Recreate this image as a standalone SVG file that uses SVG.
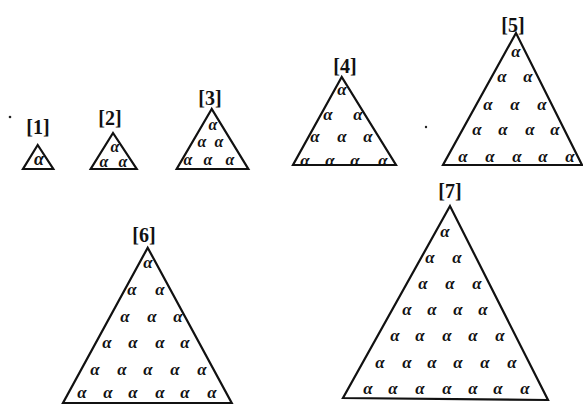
<svg xmlns="http://www.w3.org/2000/svg" width="583" height="405" viewBox="0 0 583 405">
<style>
.tri{fill:none;stroke:#111;stroke-width:2.2;stroke-linejoin:miter}
.lab{font-family:"Liberation Serif",serif;font-weight:bold;font-size:20px;text-anchor:middle;fill:#111}
.a{font-family:"Liberation Serif",serif;font-style:italic;font-weight:bold;font-size:17px;text-anchor:middle;fill:#111}
.b{font-size:18px}
.c{font-size:16px}
</style>
<rect width="583" height="405" fill="#fff"/>
<circle cx="10" cy="117" r="1.3" fill="#222"/>
<circle cx="426" cy="127" r="1.2" fill="#222"/>
<g id="n1">
<text class="lab" x="38" y="134">[1]</text>
<polygon class="tri" points="37.7,145 23,169 53.3,169"/>
<text class="a b" x="39" y="165">α</text>
</g>
<g id="n2">
<text class="lab" x="110" y="125">[2]</text>
<polygon class="tri" points="113,133 90.7,169 136.7,169"/>
<text class="a c" x="115" y="152">α</text>
<text class="a c" x="104" y="167">α</text>
<text class="a c" x="123" y="167">α</text>
</g>
<g id="n3">
<text class="lab" x="210" y="105">[3]</text>
<polygon class="tri" points="211.7,109 176.7,169 248.3,169"/>
<text class="a c" x="213" y="130">α</text>
<text class="a c" x="202" y="147">α</text>
<text class="a c" x="219" y="147">α</text>
<text class="a c" x="188" y="165">α</text>
<text class="a c" x="208" y="165">α</text>
<text class="a c" x="230" y="165">α</text>
</g>
<g id="n4">
<text class="lab" x="345" y="73">[4]</text>
<polygon class="tri" points="341.7,77 293,165 396,165"/>
<text class="a" x="342" y="95">α</text>
<text class="a" x="328" y="120">α</text>
<text class="a" x="358" y="120">α</text>
<text class="a" x="315" y="142">α</text>
<text class="a" x="342" y="142">α</text>
<text class="a" x="368" y="142">α</text>
<text class="a" x="305" y="166">α</text>
<text class="a" x="330" y="166">α</text>
<text class="a" x="355" y="166">α</text>
<text class="a" x="383" y="166">α</text>
</g>
<g id="n5">
<text class="lab" x="513" y="32">[5]</text>
<polygon class="tri" points="516,33 443,165 582,165"/>
<text class="a" x="516" y="57">α</text>
<text class="a" x="502" y="82">α</text>
<text class="a" x="528" y="82">α</text>
<text class="a" x="488" y="110">α</text>
<text class="a" x="515" y="110">α</text>
<text class="a" x="542" y="110">α</text>
<text class="a" x="477" y="135">α</text>
<text class="a" x="503" y="135">α</text>
<text class="a" x="530" y="135">α</text>
<text class="a" x="555" y="135">α</text>
<text class="a" x="463" y="162">α</text>
<text class="a" x="490" y="162">α</text>
<text class="a" x="517" y="162">α</text>
<text class="a" x="543" y="162">α</text>
<text class="a" x="570" y="162">α</text>
</g>
<g id="n6">
<text class="lab" x="144" y="242">[6]</text>
<polygon class="tri" points="147.7,247.7 63,403 231.7,403"/>
<text class="a" x="148" y="268">α</text>
<text class="a" x="132" y="295">α</text>
<text class="a" x="160" y="295">α</text>
<text class="a" x="125" y="322">α</text>
<text class="a" x="152" y="322">α</text>
<text class="a" x="178" y="322">α</text>
<text class="a" x="107" y="348">α</text>
<text class="a" x="133" y="348">α</text>
<text class="a" x="160" y="348">α</text>
<text class="a" x="185" y="348">α</text>
<text class="a" x="95" y="375">α</text>
<text class="a" x="122" y="375">α</text>
<text class="a" x="148" y="375">α</text>
<text class="a" x="175" y="375">α</text>
<text class="a" x="202" y="375">α</text>
<text class="a" x="82" y="398">α</text>
<text class="a" x="108" y="398">α</text>
<text class="a" x="133" y="398">α</text>
<text class="a" x="160" y="398">α</text>
<text class="a" x="185" y="398">α</text>
<text class="a" x="212" y="398">α</text>
</g>
<g id="n7">
<text class="lab" x="450" y="198">[7]</text>
<polygon class="tri" points="450,206 343,398 548,400"/>
<text class="a" x="445" y="237">α</text>
<text class="a" x="430" y="263">α</text>
<text class="a" x="457" y="263">α</text>
<text class="a" x="423" y="289">α</text>
<text class="a" x="450" y="289">α</text>
<text class="a" x="477" y="289">α</text>
<text class="a" x="407" y="315">α</text>
<text class="a" x="432" y="315">α</text>
<text class="a" x="458" y="315">α</text>
<text class="a" x="483" y="315">α</text>
<text class="a" x="395" y="341">α</text>
<text class="a" x="420" y="341">α</text>
<text class="a" x="447" y="341">α</text>
<text class="a" x="473" y="341">α</text>
<text class="a" x="500" y="341">α</text>
<text class="a" x="380" y="368">α</text>
<text class="a" x="407" y="368">α</text>
<text class="a" x="432" y="368">α</text>
<text class="a" x="458" y="368">α</text>
<text class="a" x="485" y="368">α</text>
<text class="a" x="512" y="368">α</text>
<text class="a" x="368" y="394">α</text>
<text class="a" x="393" y="394">α</text>
<text class="a" x="420" y="394">α</text>
<text class="a" x="447" y="394">α</text>
<text class="a" x="473" y="394">α</text>
<text class="a" x="498" y="394">α</text>
<text class="a" x="525" y="394">α</text>
</g>
<g id="connectors"></g>
</svg>
